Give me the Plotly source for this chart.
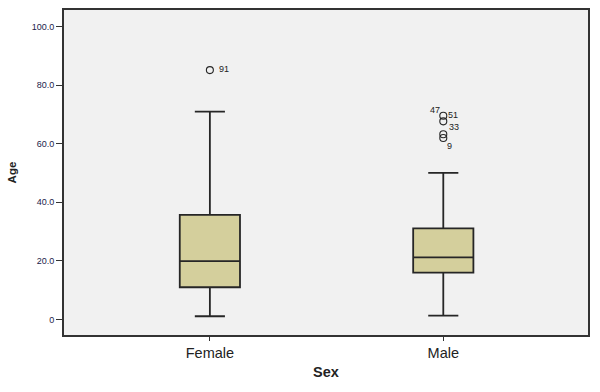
import plotly.graph_objects as go

categories = ["Female", "Male"]
q1 = [11.0, 16.0]
median = [19.9, 21.2]
q3 = [35.7, 31.1]
lower_whisker = [1.1, 1.3]
upper_whisker = [70.9, 50.0]

# outliers: category index and value
outlier_cat = [0, 1, 1, 1, 1]
outlier_val = [85.1, 69.5, 67.6, 63.2, 61.9]
# case labels beside the outliers
label_cat = [0, 1, 1, 1, 1]
label_val = [85.4, 71.6, 69.8, 65.6, 59.2]
label_txt = ["91", "47", "51", "33", "9"]
label_xshift = [14, -8, 10, 11, 6]

ytick_vals = [0, 20, 40, 60, 80, 100]
ytick_text = ["0", "20.0", "40.0", "60.0", "80.0", "100.0"]

FONT = "Liberation Sans, Arial, sans-serif"
DARK = "#262626"

fig = go.Figure()
fig.add_trace(go.Box(
    x=[0, 1],
    q1=q1, median=median, q3=q3,
    lowerfence=lower_whisker, upperfence=upper_whisker,
    fillcolor="#d4cf9c",
    line=dict(color=DARK, width=1.8),
    whiskerwidth=0.5,
    width=0.258,
    boxpoints=False,
    showlegend=False,
    hoverinfo="skip",
))
fig.add_trace(go.Scatter(
    x=outlier_cat, y=outlier_val, mode="markers",
    marker=dict(symbol="circle-open", size=7, color=DARK, line=dict(width=1.1)),
    showlegend=False, hoverinfo="skip",
))

for c, v, t, dx in zip(label_cat, label_val, label_txt, label_xshift):
    fig.add_annotation(x=c, y=v, text=t, showarrow=False, xshift=dx,
                       font=dict(family=FONT, size=9, color="#222"))

fig.update_layout(
    width=600, height=392,
    margin=dict(l=63.5, r=12, t=7.5, b=56.5),
    paper_bgcolor="white",
    plot_bgcolor="#f1f1f1",
    font=dict(family=FONT, color="#222"),
    xaxis=dict(
        tickmode="array", tickvals=[0, 1], ticktext=categories,
        range=[-0.625, 1.62],
        showgrid=False, zeroline=False,
        showline=True, mirror=True, linecolor="#333", linewidth=2,
        ticks="outside", ticklen=4, tickwidth=1.3, tickcolor="#333",
        tickfont=dict(family=FONT, size=14.5, color="#222"),
        title=dict(text="<b>Sex</b>", font=dict(family=FONT, size=14.5, color="#222"), standoff=6),
    ),
    yaxis=dict(
        tickmode="array", tickvals=ytick_vals, ticktext=ytick_text,
        range=[-5.3, 105.6],
        showgrid=False, zeroline=False,
        showline=True, mirror=True, linecolor="#333", linewidth=2,
        ticks="outside", ticklen=6, tickwidth=1.3, tickcolor="#333",
        tickfont=dict(family=FONT, size=9, color="#22224a"),
        title=dict(text="<b>Age</b>", font=dict(family=FONT, size=11.5, color="#222"), standoff=13),
    ),
)

fig.write_html("out.html")
